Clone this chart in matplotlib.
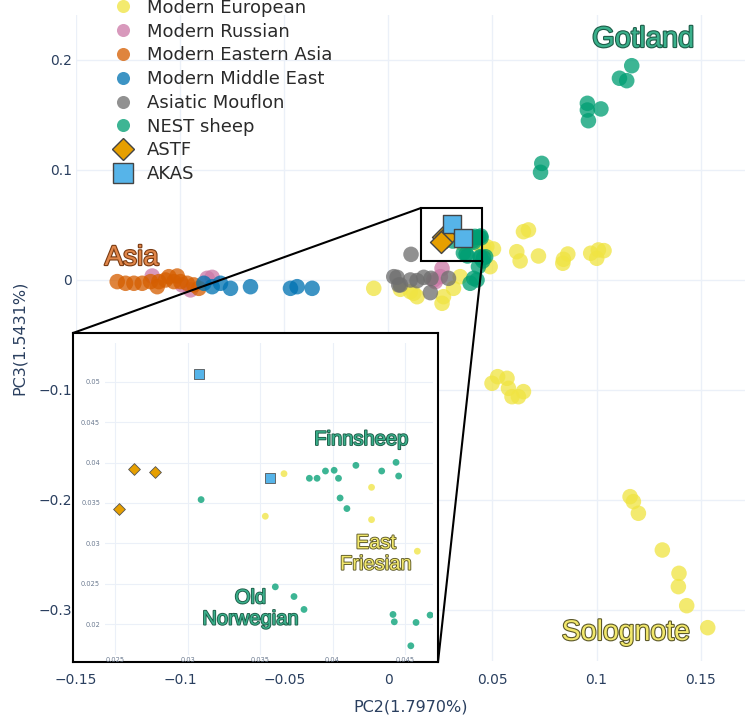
import matplotlib
matplotlib.use("Agg")
import matplotlib.pyplot as plt
from matplotlib.lines import Line2D
from matplotlib.patches import Rectangle, ConnectionPatch
from matplotlib import patheffects as pe

# DATA (PC2, PC3)
eu_x = [0.03665, 0.03536, 0.04269, 0.04269, 0.04585,
        0.0473, 0.0505, 0.0489, 0.0617, 0.0633, 0.0649, 0.0673, 0.0721, 0.0838, 0.0841,
        0.0862, 0.0972, 0.1001, 0.1009, 0.1036,
        -0.0070, 0.0058, 0.0106, 0.0122, 0.0138, 0.0265, 0.0258, 0.0313, 0.0345,
        0.0498, 0.0525, 0.0570, 0.0577, 0.0594, 0.0625, 0.0649,
        0.1161, 0.1177, 0.1201, 0.1316, 0.1396, 0.1393, 0.1433, 0.1534]
eu_y = [0.03862, 0.03335, 0.03693, 0.03293, 0.02902,
        0.0303, 0.0282, 0.0121, 0.0257, 0.0173, 0.0439, 0.0455, 0.0218, 0.0152, 0.0188,
        0.0236, 0.0243, 0.0197, 0.0273, 0.0267,
        -0.0076, -0.0085, -0.0106, -0.0121, -0.0152, -0.0152, -0.0212, -0.0076, 0.0030,
        -0.0939, -0.0879, -0.0894, -0.0985, -0.1061, -0.1061, -0.1015,
        -0.1970, -0.2015, -0.2121, -0.2455, -0.2667, -0.2788, -0.2961, -0.3161]

ru_x = [-0.1134, -0.0990, -0.0950, -0.0870, -0.0846, 0.0258, 0.0250, 0.0226, 0.0218]
ru_y = [0.0036, -0.0045, -0.0090, 0.0015, 0.0024, 0.0106, 0.0030, -0.0015, 0.0]

ea_x = [-0.1302, -0.1262, -0.1222, -0.1182, -0.1142, -0.1110, -0.1102, -0.1070,
        -0.1054, -0.1030, -0.1014, -0.0998, -0.0966, -0.0934, -0.0910]
ea_y = [-0.0015, -0.0030, -0.0030, -0.0030, -0.0015, -0.0061, -0.0015, 0.0,
        0.0030, -0.0015, 0.0036, -0.0015, -0.0030, -0.0045, -0.0076]

me_x = [-0.0886, -0.0846, -0.0806, -0.0758, -0.0662, -0.0470, -0.0438, -0.0366]
me_y = [-0.0030, -0.0061, -0.0030, -0.0076, -0.0061, -0.0076, -0.0061, -0.0076]

mf_x = [0.0109, 0.0026, 0.0042, 0.0050, 0.0058, 0.0106, 0.0138, 0.0170, 0.0205, 0.0289, 0.0202]
mf_y = [0.0233, 0.0030, 0.0024, -0.0045, -0.0045, 0.0, -0.0006, 0.0024, 0.0015, 0.0015, -0.0115]

nest_x = [0.03093, 0.03840, 0.03893, 0.03951, 0.04011, 0.04041, 0.04161, 0.04052, 0.04099,
          0.04339, 0.04438, 0.04456, 0.03605, 0.03734, 0.03803, 0.04417, 0.04426, 0.04576,
          0.04673, 0.04540,
          0.0433, 0.0410, 0.0393, 0.0426, 0.0731, 0.0737,
          0.1169, 0.1110, 0.1145, 0.0956, 0.0956, 0.1021, 0.0961]
nest_y = [0.03541, 0.03805, 0.03805, 0.03895, 0.03904, 0.03805, 0.03965, 0.03561, 0.03430,
          0.03895, 0.04002, 0.03833, 0.02461, 0.02341, 0.02181, 0.02119, 0.02028, 0.02020,
          0.02111, 0.01731,
          0.0121, 0.0015, -0.0030, 0.0, 0.0979, 0.1060,
          0.1948, 0.1834, 0.1812, 0.1606, 0.1545, 0.1555, 0.1448]

astf_x = [0.02627, 0.02777, 0.02528]
astf_y = [0.0392, 0.0388, 0.0342]

akas_x = [0.03081, 0.03566]
akas_y = [0.05095, 0.03805]

group_names = ["Modern European", "Modern Russian", "Modern Eastern Asia",
               "Modern Middle East", "Asiatic Mouflon", "NEST sheep"]
group_x = [eu_x, ru_x, ea_x, me_x, mf_x, nest_x]
group_y = [eu_y, ru_y, ea_y, me_y, mf_y, nest_y]
group_colors = ["#F0E442", "#CC79A7", "#D55E00", "#0072B2", "#6f6f6f", "#009E73"]

x_ticks = [-0.15, -0.1, -0.05, 0, 0.05, 0.1, 0.15]
x_tick_labels = ["\u22120.15", "\u22120.1", "\u22120.05", "0", "0.05", "0.1", "0.15"]
y_ticks = [-0.3, -0.2, -0.1, 0, 0.1, 0.2]
y_tick_labels = ["\u22120.3", "\u22120.2", "\u22120.1", "0", "0.1", "0.2"]

in_x_ticks = [0.025, 0.03, 0.035, 0.04, 0.045]
in_x_tick_labels = ["0.025", "0.03", "0.035", "0.04", "0.045"]
in_y_ticks = [0.02, 0.025, 0.03, 0.035, 0.04, 0.045, 0.05]
in_y_tick_labels = ["0.02", "0.025", "0.03", "0.035", "0.04", "0.045", "0.05"]

W, H = 750, 719
GRID = "#EBF0F8"
AXCOL = "#2a3f5f"
ALPHA = 0.76

GREEN_TXT = ("#3ab08b", "#1d5c48")
YELLOW_TXT = ("#f2e86c", "#5c5828")
ORANGE_TXT = ("#e0864a", "#7a3b12")


def fx(px): return px / W
def fy(py): return (H - py) / H


def label(axis, x, y, s, size, colors, va="baseline", lw=1.6):
    axis.text(x, y, s, fontsize=size, family="Liberation Sans", color=colors[0],
              ha="center", va=va, zorder=10, linespacing=1.15,
              path_effects=[pe.Stroke(linewidth=lw, foreground=colors[1]), pe.Normal()])


fig = plt.figure(figsize=(W / 100, H / 100), dpi=100)

# MAIN AXES
ax = fig.add_axes([fx(76), fy(661), fx(745) - fx(76), fy(15) - fy(661)], zorder=1)
for i in range(len(group_names)):
    ax.scatter(group_x[i], group_y[i], s=125, color=group_colors[i], alpha=ALPHA,
               edgecolors="none", zorder=3)
ax.scatter(astf_x, astf_y, s=125, marker="D", color="#E69F00", edgecolors="#444444",
           linewidths=1, zorder=4)
ax.scatter(akas_x, akas_y, s=170, marker="s", color="#56B4E9", edgecolors="#444444",
           linewidths=1, zorder=4)

ax.set_xlim(-0.1497, 0.1713)
ax.set_ylim(-0.3464, 0.2409)
ax.set_xticks(x_ticks, x_tick_labels)
ax.set_yticks(y_ticks, y_tick_labels)
ax.grid(True, color=GRID, linewidth=1, zorder=0)
ax.set_axisbelow(True)
for sp in ax.spines.values():
    sp.set_visible(False)
ax.tick_params(length=0, labelsize=10, labelcolor=AXCOL)
ax.tick_params(axis="x", pad=9)
ax.tick_params(axis="y", pad=3)
ax.set_xlabel("PC2(1.7970%)", fontsize=11.5, color=AXCOL, labelpad=9)
ax.set_ylabel("PC3(1.5431%)", fontsize=11.5, color=AXCOL, labelpad=8)

label(ax, 0.1224, 0.2118, "Gotland", 21, GREEN_TXT)
label(ax, -0.1233, 0.0136, "Asia", 20, ORANGE_TXT)
label(ax, 0.1142, -0.3273, "Solognote", 20.5, YELLOW_TXT)

# zoom rectangle
ax.add_patch(Rectangle((0.0158, 0.0173), 0.0293, 0.0482, fill=False,
                       edgecolor="black", linewidth=1.5, zorder=6))

# INSET BOX
box = fig.add_axes([fx(73), fy(662), fx(438) - fx(73), fy(333) - fy(662)], zorder=2)
box.set_xticks([])
box.set_yticks([])
box.set_facecolor("white")
for sp in box.spines.values():
    sp.set_color("black")
    sp.set_linewidth(1.5)

for xa, ya, xb, yb in [(0.0158, 0.0655, fx(73), fy(333)), (0.0451, 0.0173, fx(438), fy(662))]:
    con = ConnectionPatch(xyA=(xa, ya), coordsA=ax.transData, xyB=(xb, yb),
                          coordsB=fig.transFigure, color="black", linewidth=1.5, zorder=1.5)
    fig.add_artist(con)

# INSET AXES
axi = fig.add_axes([fx(105), fy(655), fx(433) - fx(105), fy(343) - fy(655)], zorder=3)
axi.patch.set_alpha(0)
for i in range(len(group_names)):
    axi.scatter(group_x[i], group_y[i], s=24, color=group_colors[i], alpha=ALPHA,
                edgecolors="none", zorder=3)
axi.scatter(astf_x, astf_y, s=36, marker="D", color="#E69F00", edgecolors="#555555",
            linewidths=0.6, zorder=4)
axi.scatter(akas_x, akas_y, s=52, marker="s", color="#56B4E9", edgecolors="#555555",
            linewidths=0.6, zorder=4)
axi.set_xlim(0.0243, 0.04693)
axi.set_ylim(0.01617, 0.0548)
axi.set_xticks(in_x_ticks, in_x_tick_labels)
axi.set_yticks(in_y_ticks, in_y_tick_labels)
axi.grid(True, color=GRID, linewidth=0.8, zorder=0)
axi.set_axisbelow(True)
for sp in axi.spines.values():
    sp.set_visible(False)
axi.tick_params(length=0, labelsize=4.8, labelcolor="#6b7a90")
axi.tick_params(axis="x", pad=1.5)
axi.tick_params(axis="y", pad=3.5)

label(axi, 0.04198, 0.04217, "Finnsheep", 14.5, GREEN_TXT, lw=1.3)
label(axi, 0.04299, 0.02873, "East\nFriesian", 14.5, YELLOW_TXT, va="center", lw=1.3)
label(axi, 0.03434, 0.02193, "Old\nNorwegian", 14.5, GREEN_TXT, va="center", lw=1.3)

# LEGEND
handles = [Line2D([], [], ls="", marker="o", markersize=9.4, color=c, alpha=ALPHA,
                  markeredgewidth=0) for c in group_colors]
handles.append(Line2D([], [], ls="", marker="D", markersize=11.7, color="#E69F00",
                      markeredgecolor="#444444", markeredgewidth=1))
handles.append(Line2D([], [], ls="", marker="s", markersize=13.7, color="#56B4E9",
                      markeredgecolor="#444444", markeredgewidth=1))
leg = fig.legend(handles, group_names + ["ASTF", "AKAS"], loc="upper left",
                 bbox_to_anchor=(fx(108.9), fy(-1.2)), bbox_transform=fig.transFigure,
                 frameon=False, fontsize=13, borderpad=0, borderaxespad=0,
                 handlelength=1.6, handletextpad=0.5, labelspacing=0.32)
for t in leg.get_texts():
    t.set_color("#2a2a2a")

fig.savefig("out.png", dpi=100)
